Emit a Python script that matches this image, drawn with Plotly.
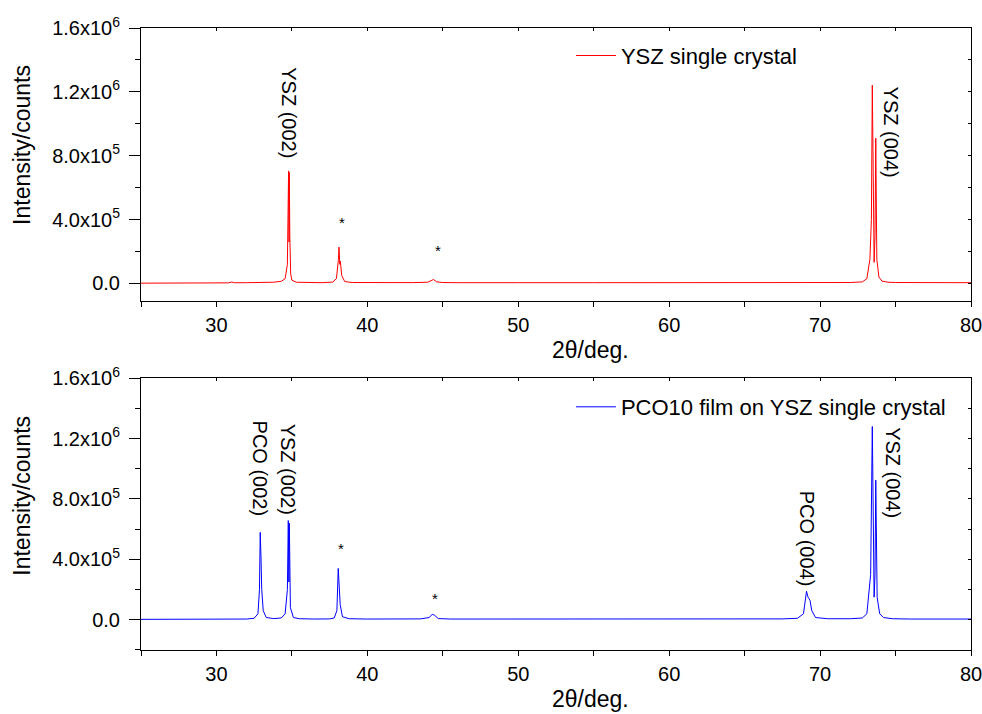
import plotly.graph_objects as go

# ---------------- data ----------------
ysz_x = [25.0, 26.0, 27.0, 28.0, 29.0, 30.0, 30.8, 31.0, 31.2, 32.0, 33.0, 33.8, 34.3, 34.55,
         34.7, 34.76, 34.78, 34.81, 34.83, 34.86, 34.92, 35.0, 35.3, 36.0, 37.0, 37.7, 37.95,
         38.08, 38.12, 38.17, 38.21, 38.3, 38.5, 39.0, 40.0, 41.0, 42.0, 43.0, 44.0, 44.25,
         44.38, 44.6, 45.0, 46.0, 47.0, 47.5, 48.0, 50.0, 55.0, 60.0, 64.0, 64.5, 65.0, 70.0,
         71.0, 72.0, 72.8, 73.1, 73.3, 73.40, 73.46, 73.52, 73.58, 73.64, 73.69, 73.76, 73.9,
         74.1, 74.5, 75.0, 77.0, 80.0]
ysz_y = [2000, 2500, 2300, 2600, 3000, 3500, 4000, 9000, 4500, 5000, 6000, 8000, 14000, 30000,
         120000, 600000, 705000, 260000, 695000, 300000, 60000, 20000, 8000, 5000, 5000, 9000, 30000,
         150000, 228000, 120000, 140000, 50000, 12000, 6000, 5000, 5000, 5000, 5500, 8000, 18000,
         25000, 10000, 6000, 5000, 6000, 7000, 5000, 5000, 5000, 5000, 6000, 7000, 5000, 5000,
         5500, 6000, 10000, 30000, 150000, 400000, 1242000, 400000, 132000, 300000, 910000, 150000, 40000,
         15000, 8000, 6000, 5000, 5000]

pco_x = [25.0, 28.0, 30.0, 31.0, 31.2, 31.4, 32.0, 32.5, 32.75, 32.85, 32.9, 32.95, 33.0, 33.1,
         33.3, 33.8, 34.3, 34.55, 34.7, 34.76, 34.80, 34.83, 34.9, 35.1, 35.5, 36.5, 37.5, 37.8,
         37.98, 38.07, 38.13, 38.2, 38.35, 38.8, 40.0, 42.0, 43.5, 44.1, 44.3, 44.45, 44.7, 45.5,
         50.0, 55.0, 60.0, 65.0, 65.4, 65.6, 67.5, 68.5, 68.9, 69.1, 69.2, 69.33, 69.45, 69.7,
         70.5, 72.0, 72.8, 73.1, 73.35, 73.46, 73.52, 73.58, 73.64, 73.69, 73.78, 73.95, 74.2,
         74.8, 76.0, 80.0]
pco_y = [3000, 3000, 3500, 4000, 7000, 4000, 5000, 10000, 40000, 200000, 579000, 420000, 200000, 60000,
         15000, 8000, 12000, 40000, 200000, 657000, 250000, 640000, 80000, 15000, 7000, 5000, 6000, 12000,
         60000, 340000, 208000, 100000, 20000, 7000, 5000, 5000, 6000, 15000, 37000, 30000, 8000, 5000,
         5000, 5000, 5000, 5000, 9000, 5000, 6000, 10000, 40000, 189000, 150000, 130000, 60000, 15000,
         7000, 7000, 12000, 40000, 300000, 1280000, 400000, 150000, 300000, 925000, 150000, 40000, 15000,
         7000, 5000, 5000]

series_names = ["YSZ single crystal", "PCO10 film on YSZ single crystal"]

x_tickvals = [25, 30, 35, 40, 45, 50, 55, 60, 65, 70, 75, 80]
x_ticktext = ["", "30", "", "40", "", "50", "", "60", "", "70", "", "80"]
y_tickvals = [0, 4e5, 8e5, 1.2e6, 1.6e6]
y_ticktext = ["0.0", "4.0x10<sup>5</sup>", "8.0x10<sup>5</sup>", "1.2x10<sup>6</sup>", "1.6x10<sup>6</sup>"]
y_minor_top = [2e5, 6e5, 1e6, 1.4e6]
y_minor_bot = [-2e5, 2e5, 6e5, 1e6, 1.4e6]
y_inner_ticks = [-2e5, 0, 2e5, 4e5, 6e5, 8e5, 1e6, 1.2e6, 1.4e6, 1.6e6]

# peak labels: (text, x, y) for each panel
top_labels = ["YSZ (002)", "*", "*", "YSZ (004)"]
top_lab_x = [34.8, 38.3, 44.66, 74.68]
top_lab_y = [1.067e6, 3.85e5, 2.07e5, 9.47e5]
top_lab_angle = [90, 0, 0, 90]

bot_labels = ["PCO (002)", "YSZ (002)", "*", "*", "PCO (004)", "YSZ (004)"]
bot_lab_x = [32.9, 34.75, 38.25, 44.48, 69.1, 74.86]
bot_lab_y = [1.0e6, 1.0e6, 4.7e5, 1.41e5, 5.4e5, 9.75e5]
bot_lab_angle = [90, 90, 0, 0, 90, 90]

x_range = [25, 80]
top_y_range = [-1.1e5, 1.6e6]
bot_y_range = [-2.0e5, 1.6e6]

FONT = "Liberation Sans, Arial, Helvetica, sans-serif"

fig = go.Figure()
fig.add_trace(go.Scatter(x=ysz_x, y=ysz_y, mode="lines", name=series_names[0],
                         line=dict(color="#ff0000", width=1), xaxis="x", yaxis="y", legend="legend"))
fig.add_trace(go.Scatter(x=pco_x, y=pco_y, mode="lines", name=series_names[1],
                         line=dict(color="#0000ff", width=1), xaxis="x2", yaxis="y2", legend="legend2"))
# empty traces registering the inner-tick overlay axes
fig.add_trace(go.Scatter(x=[], y=[], xaxis="x3", yaxis="y3", showlegend=False, hoverinfo="skip"))
fig.add_trace(go.Scatter(x=[], y=[], xaxis="x4", yaxis="y4", showlegend=False, hoverinfo="skip"))

top_dom = [0.561, 1.0]
bot_dom = [0.0, 0.437]

def main_x(anchor):
    return dict(domain=[0, 1], range=x_range, anchor=anchor, tickmode="array",
                tickvals=x_tickvals, ticktext=x_ticktext, ticks="outside", ticklen=5,
                tickwidth=1, tickcolor="black", showline=True, linecolor="black", linewidth=1,
                mirror=True, showgrid=False, zeroline=False, automargin=False,
                ticklabeloverflow="allow",
                tickfont=dict(family=FONT, size=20, color="black"), ticklabelstandoff=1)

def main_y(anchor, dom, rng, minor_vals):
    return dict(domain=dom, range=rng, anchor=anchor, tickmode="array",
                tickvals=y_tickvals, ticktext=y_ticktext, ticks="outside", ticklen=11,
                tickwidth=1, tickcolor="black", showline=True, linecolor="black", linewidth=1,
                mirror=True, showgrid=False, zeroline=False, automargin=False,
                ticklabeloverflow="allow",
                minor=dict(tickvals=minor_vals, ticks="outside", ticklen=5, tickcolor="black",
                           showgrid=False),
                tickfont=dict(family=FONT, size=20, color="black"), ticklabelstandoff=5)

def inner_x(over, anchor):
    return dict(overlaying=over, side="top", anchor=anchor, range=x_range, tickmode="array",
                tickvals=x_tickvals, ticks="inside", ticklen=3, tickcolor="black", automargin=False,
                showticklabels=False, showgrid=False, zeroline=False, showline=False)

def inner_y(over, anchor, rng):
    return dict(overlaying=over, side="right", anchor=anchor, range=rng, tickmode="array",
                tickvals=y_inner_ticks, ticks="inside", ticklen=3, tickcolor="black", automargin=False,
                showticklabels=False, showgrid=False, zeroline=False, showline=False)

annotations = []
for t, x, y, a in zip(top_labels, top_lab_x, top_lab_y, top_lab_angle):
    annotations.append(dict(text=t, x=x, y=y, xref="x", yref="y", showarrow=False, textangle=a,
                            font=dict(family=FONT, size=20 if a else 15, color="black")))
for t, x, y, a in zip(bot_labels, bot_lab_x, bot_lab_y, bot_lab_angle):
    annotations.append(dict(text=t, x=x, y=y, xref="x2", yref="y2", showarrow=False, textangle=a,
                            font=dict(family=FONT, size=20 if a else 15, color="black")))

# axis titles
for yy in [0.812, 0.248]:
    annotations.append(dict(text="Intensity/counts", x=-0.1434, y=yy, xref="paper", yref="paper",
                            showarrow=False, textangle=-90, xanchor="center", yanchor="middle",
                            font=dict(family=FONT, size=23, color="black")))
for yy in [0.482, -0.0788]:
    annotations.append(dict(text="2θ/deg.", x=0.542, y=yy, xref="paper", yref="paper",
                            showarrow=False, xanchor="center", yanchor="middle",
                            font=dict(family=FONT, size=23, color="black")))

fig.update_layout(
    width=982, height=714,
    margin=dict(l=141, r=11, t=28, b=64, autoexpand=False),
    paper_bgcolor="white", plot_bgcolor="white",
    xaxis=main_x("y"),
    yaxis=main_y("x", top_dom, top_y_range, y_minor_top),
    xaxis2=main_x("y2"),
    yaxis2=main_y("x2", bot_dom, bot_y_range, y_minor_bot),
    xaxis3=inner_x("x", "y"),
    yaxis3=inner_y("y", "x", top_y_range),
    xaxis4=inner_x("x2", "y2"),
    yaxis4=inner_y("y2", "x2", bot_y_range),
    legend=dict(x=0.518, y=(650 - 55.7) / 622, xanchor="left", yanchor="middle",
                bgcolor="rgba(0,0,0,0)", font=dict(family=FONT, size=22, color="black"),
                itemwidth=40),
    legend2=dict(x=0.518, y=(650 - 407) / 622, xanchor="left", yanchor="middle",
                 bgcolor="rgba(0,0,0,0)", font=dict(family=FONT, size=22, color="black"),
                 itemwidth=40),
    annotations=annotations,
    showlegend=True,
)

fig.write_html("out.html")
